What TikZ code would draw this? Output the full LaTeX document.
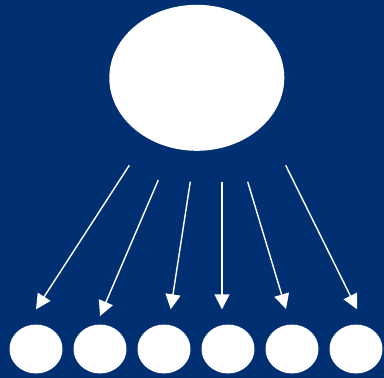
\documentclass[tikz,border=0pt]{standalone}
\usetikzlibrary{shapes.geometric,arrows.meta}
\definecolor{bgblue}{RGB}{0,47,114}
\begin{document}
\begin{tikzpicture}[x=1pt,y=-1pt,
  blob/.style={ellipse,fill=white,draw=none,inner sep=0pt},
  small/.style={blob,minimum width=53pt,minimum height=49pt},
  arr/.style={white,line width=1.4pt,-{Triangle[width=15pt,length=15pt]}}]
\fill[bgblue] (0,0) rectangle (384,378);
\useasboundingbox (0,0) rectangle (384,378);
\node[blob,minimum width=175pt,minimum height=146pt] (top) at (196.8,77.8) {};
\foreach \i/\x in {1/36,2/100,3/164,4/228,5/292,6/356}{
  \node[small] (c\i) at (\x,349) {};
}
\coordinate (s1) at (129.3,165.3); \coordinate (e1) at (36,309.3);
\coordinate (s2) at (158.3,180);   \coordinate (e2) at (100,316);
\coordinate (s3) at (190.3,181.7); \coordinate (e3) at (170.7,309.3);
\coordinate (s4) at (222,181.7);   \coordinate (e4) at (222,309.3);
\coordinate (s5) at (247.7,181.7); \coordinate (e5) at (286,309);
\coordinate (s6) at (285.7,165.3); \coordinate (e6) at (357,309.3);
\foreach \i in {1,...,6}{\draw[arr] (s\i) -- (e\i);}
\end{tikzpicture}
\end{document}
